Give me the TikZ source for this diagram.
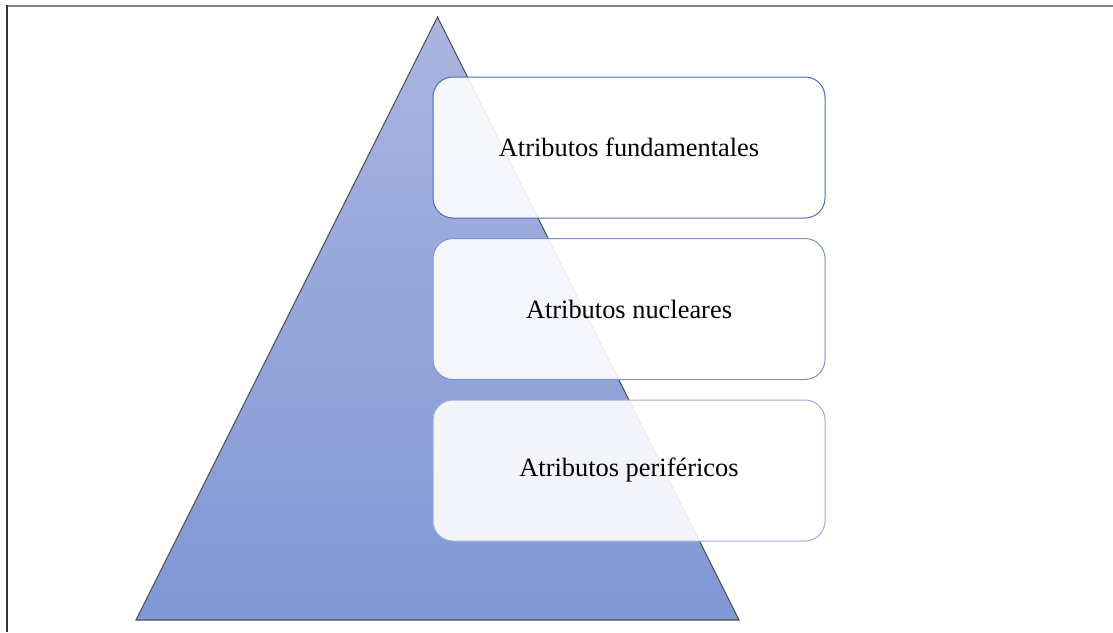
\documentclass[tikz,border=0pt]{standalone}
\usepackage{fontspec}
\setmainfont{Liberation Serif}
\definecolor{triTop}{HTML}{AAB4E0}
\definecolor{triBot}{HTML}{8098D5}
\definecolor{edgeA}{HTML}{4A6CBE}
\definecolor{edgeB}{HTML}{7A92D5}
\definecolor{edgeC}{HTML}{9DAEE3}
\tikzset{
  levelbox/.style={draw, line width=1pt, rounded corners=20pt, fill=white, fill opacity=0.9, text opacity=1,
    minimum width=392pt, minimum height=141pt, inner sep=0pt,
    font=\fontsize{26.4}{30}\selectfont, text=black},
  frameline/.style={line width=2.2pt}
}
\begin{document}
\begin{tikzpicture}[x=1pt,y=-1pt]
\useasboundingbox (0,0) rectangle (1113,632);
\fill[white] (0,0) rectangle (1113,632);
% frame
\draw[frameline, color=gray] (6,5.8) -- (1113,5.8);
\draw[frameline, color=black!80] (6.6,5) -- (6.6,632);
% pyramid
\coordinate (apex) at (437.5,17);
\coordinate (bl) at (136,620);
\coordinate (br) at (739,620);
\shade[top color=triTop, bottom color=triBot] (apex) -- (br) -- (bl) -- cycle;
\draw[black!70, line width=1.1pt, line join=miter] (apex) -- (br) -- (bl) -- cycle;
% boxes
\node[levelbox, draw=edgeA] (fund) at (629,147.5) {\raisebox{-2pt}{Atributos fundamentales}};
\node[levelbox, draw=edgeB] (nucl) at (629,309) {\raisebox{-2pt}{Atributos nucleares}};
\node[levelbox, draw=edgeC] (peri) at (629,470.5) {\raisebox{-2pt}{Atributos periféricos}};
\end{tikzpicture}
\end{document}
